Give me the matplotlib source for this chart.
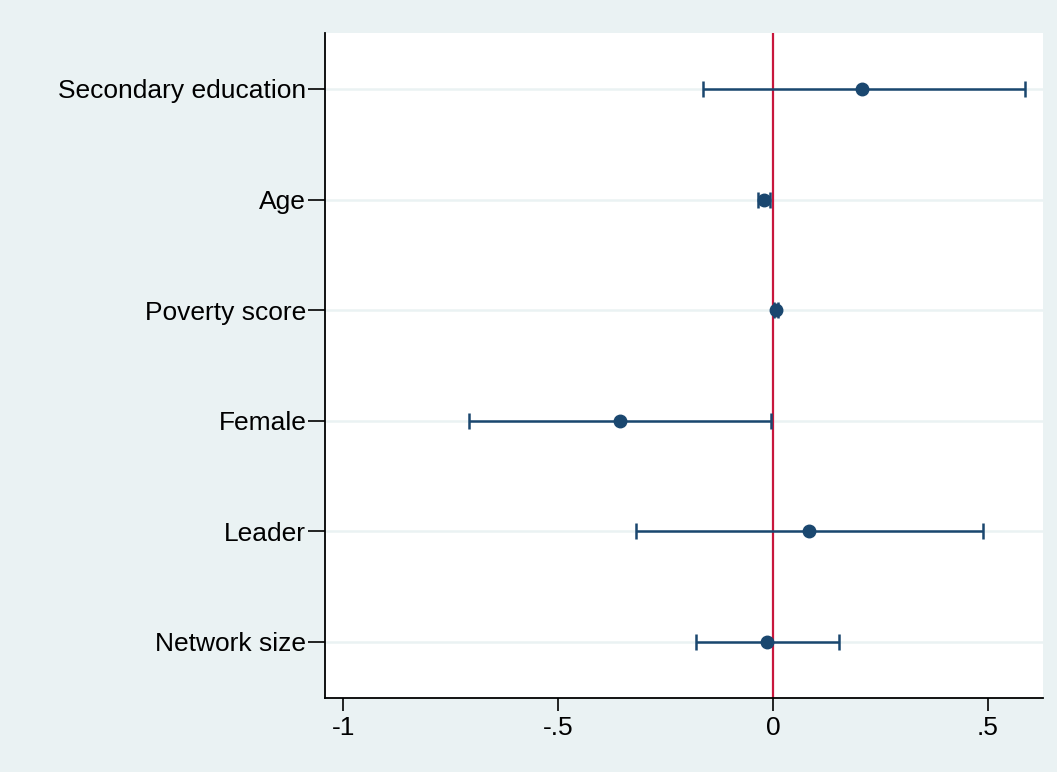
"""
Coefficient plot: point estimates with 95% confidence intervals.
"""

import matplotlib
matplotlib.use("Agg")
import matplotlib.pyplot as plt

# ── Data ────────────────────────────────────────────────────────────────────

variables = ["Secondary education", "Age", "Poverty score",
             "Female", "Leader", "Network size"]
estimates = [0.207, -0.022, 0.007, -0.356, 0.084, -0.014]
ci_low    = [-0.163, -0.036, 0.003, -0.707, -0.319, -0.179]
ci_high   = [0.586, -0.008, 0.011, -0.005, 0.488, 0.153]

x_ticks       = [-1, -0.5, 0, 0.5]
x_tick_labels = ["-1", "-.5", "0", ".5"]

# ── Style ───────────────────────────────────────────────────────────────────

NAVY   = "#1a476f"
RED    = "#c8173c"
BG     = "#eaf2f3"
GRID   = "#eaf2f3"

plt.rcParams["font.family"] = ["Liberation Sans", "DejaVu Sans"]

fig = plt.figure(figsize=(10.57, 7.72), dpi=100)
fig.patch.set_facecolor(BG)
ax = fig.add_axes([0.3075, 0.0959, 0.6793, 0.8614])
ax.set_facecolor("white")

n = len(variables)
ypos = [n - i for i in range(n)]

for y in ypos:
    ax.axhline(y, color=GRID, lw=1.8, zorder=0)

ax.axvline(0, color=RED, lw=1.6, zorder=2)

err_lo = [e - lo for e, lo in zip(estimates, ci_low)]
err_hi = [hi - e for e, hi in zip(estimates, ci_high)]
ax.errorbar(estimates, ypos, xerr=[err_lo, err_hi], fmt="o",
            color=NAVY, ecolor=NAVY, elinewidth=1.8, capsize=6, capthick=1.8,
            markersize=9, zorder=3)

ax.set_xlim(-1.042, 0.628)
ax.set_ylim(0.494, 6.506)
ax.set_xticks(x_ticks)
ax.set_xticklabels(x_tick_labels)
ax.set_yticks(ypos)
ax.set_yticklabels(variables)

ax.tick_params(axis="both", labelsize=19, colors="black",
               width=1.2, direction="out")
ax.tick_params(axis="x", length=9, pad=4)
ax.tick_params(axis="y", length=12, pad=1.5)

for side in ("top", "right"):
    ax.spines[side].set_visible(False)
for side in ("left", "bottom"):
    ax.spines[side].set_linewidth(1.3)
    ax.spines[side].set_color("black")

fig.savefig("out.png", dpi=100, facecolor=BG)
